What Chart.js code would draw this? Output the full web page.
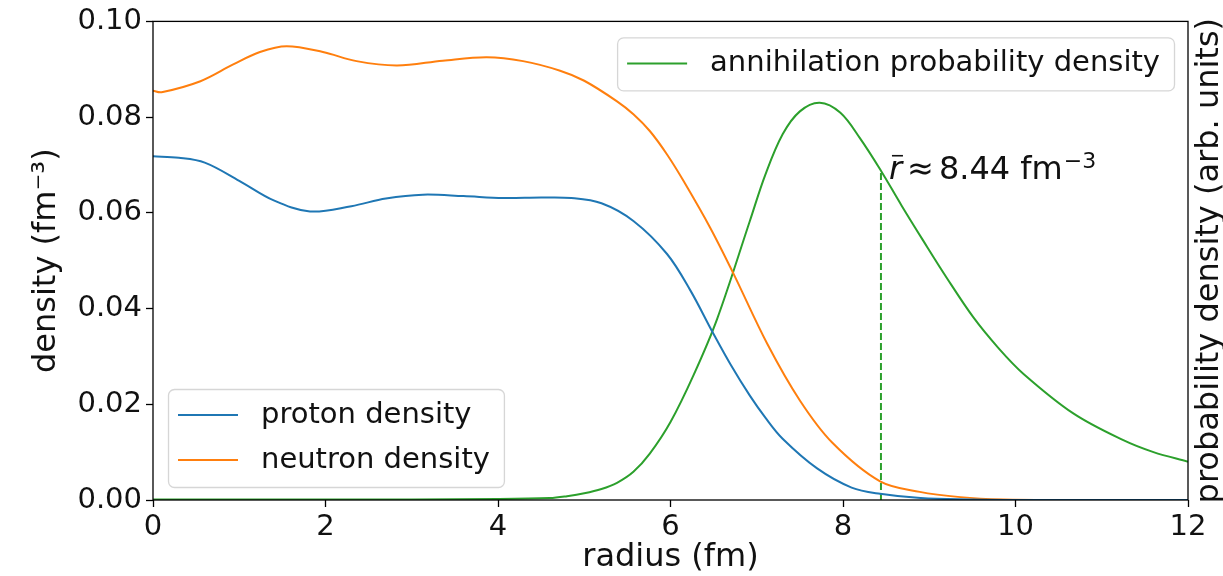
<!DOCTYPE html>
<html>
<head>
<meta charset="utf-8">
<title>Nuclear densities and annihilation probability</title>
<script src="https://cdn.jsdelivr.net/npm/chart.js@4.4.1/dist/chart.umd.min.js"></script>
<style>
  html, body { margin: 0; padding: 0; background: #fff; }
  canvas { display: block; }
</style>
</head>
<body>
<canvas id="densityChart" width="1223" height="576"></canvas>
<script>
// radius grid (fm) and density (fm^-3) for each curve
const protonR = [0, 0.3, 0.6, 1.0, 1.4, 1.82, 2.3, 2.7, 3.13, 3.6, 4.06, 4.5, 4.85, 5.2, 5.57, 5.96, 6.23, 6.49, 6.7, 6.92, 7.1, 7.3, 7.7, 8.1, 8.43, 8.9, 9.5, 10, 11, 12];
const protonDensity = [0.0718, 0.0715, 0.0705, 0.0667, 0.0626, 0.0603, 0.0614, 0.0630, 0.0638, 0.0635, 0.0631, 0.0632, 0.0631, 0.0620, 0.0583, 0.0514, 0.0438, 0.0350, 0.0282, 0.0218, 0.0172, 0.0128, 0.0066, 0.0026, 0.0013, 0.0004, 0.0001, 0, 0, 0];

const neutronR = [0, 0.1, 0.55, 0.93, 1.24, 1.55, 1.97, 2.36, 2.83, 3.36, 3.87, 4.29, 4.72, 5.0, 5.38, 5.57, 5.76, 5.96, 6.15, 6.46, 6.73, 7.12, 7.5, 7.88, 8.43, 8.89, 9.36, 9.86, 10.5, 12];
const neutronDensity = [0.0855, 0.0852, 0.0875, 0.0910, 0.0936, 0.0948, 0.0936, 0.0917, 0.0908, 0.0918, 0.0925, 0.0917, 0.0897, 0.0876, 0.0833, 0.0806, 0.0771, 0.0722, 0.0667, 0.0569, 0.0473, 0.0327, 0.0208, 0.0119, 0.0039, 0.0017, 0.0006, 0.0001, 0, 0];

// annihilation probability density, arbitrary units (right axis)
const annihR = [0, 2, 4, 4.6, 4.8, 5.0, 5.2, 5.38, 5.57, 5.76, 6.0, 6.27, 6.54, 6.92, 7.1, 7.3, 7.5, 7.73, 7.97, 8.2, 8.44, 8.68, 8.93, 9.2, 9.51, 9.8, 10.09, 10.67, 11.25, 11.6, 12];
const annihDensity = [0.001, 0.001, 0.002, 0.004, 0.008, 0.014, 0.023, 0.036, 0.059, 0.097, 0.163, 0.262, 0.378, 0.583, 0.68, 0.764, 0.812, 0.830, 0.809, 0.755, 0.688, 0.615, 0.542, 0.465, 0.382, 0.318, 0.264, 0.181, 0.125, 0.100, 0.080];

// mean annihilation radius marker
const rBar = 8.44;
const rBarDensity = 0.688;

const xTicks = [0, 2, 4, 6, 8, 10, 12];
const yTicks = [0, 0.02, 0.04, 0.06, 0.08, 0.10];

const FONT = 'DejaVu Sans';
const tickFont = { family: FONT, size: 29 };
const labelFont = { family: FONT, size: 32, lineHeight: 1.0 };

function points(xs, ys) {
  return xs.map((x, i) => ({ x: x, y: ys[i] }));
}

function lineSet(label, xs, ys, color, axis) {
  return {
    label: label,
    data: points(xs, ys),
    borderColor: color,
    backgroundColor: color,
    borderWidth: 2,
    pointRadius: 0,
    showLine: true,
    fill: false,
    tension: 0.35,
    yAxisID: axis
  };
}

function drawLegend(ctx, left, top, items) {
  const fs = 29;
  ctx.save();
  ctx.font = fs + 'px "' + FONT + '"';
  let textW = 0;
  items.forEach(it => { textW = Math.max(textW, ctx.measureText(it.label).width); });
  const w = 93 + textW + 14;
  const h = 26 * 2 + 45 * (items.length - 1) + 1;
  ctx.beginPath();
  ctx.roundRect(left + 0.5, top + 0.5, w, h, 6);
  ctx.fillStyle = 'rgba(255,255,255,0.8)';
  ctx.fill();
  ctx.strokeStyle = 'rgba(204,204,204,0.8)';
  ctx.lineWidth = 1.3;
  ctx.stroke();
  items.forEach((it, i) => {
    const cy = top + 26 + i * 45;
    ctx.beginPath();
    ctx.moveTo(left + 10, cy);
    ctx.lineTo(left + 70, cy);
    ctx.strokeStyle = it.color;
    ctx.lineWidth = 2;
    ctx.stroke();
    ctx.fillStyle = '#111';
    ctx.textBaseline = 'middle';
    ctx.textAlign = 'left';
    ctx.fillText(it.label, left + 93, cy);
  });
  ctx.restore();
  return { w: w, h: h };
}

const decorations = {
  id: 'decorations',
  afterDatasetsDraw(chart) {
    const ctx = chart.ctx;
    const a = chart.chartArea;
    const xs = chart.scales.x;
    const y2 = chart.scales.y2;
    const ds = chart.data.datasets;

    // axes frame
    ctx.save();
    ctx.strokeStyle = '#000';
    ctx.lineWidth = 1.3;
    ctx.strokeRect(a.left, a.top, a.right - a.left, a.bottom - a.top);
    ctx.restore();

    // legends: proton/neutron lower left, annihilation upper right
    const lower = [ds[0], ds[1]].map(d => ({ label: d.label, color: d.borderColor }));
    const upper = [ds[2]].map(d => ({ label: d.label, color: d.borderColor }));
    drawLegend(ctx, a.left + 15, a.bottom - 13 - (26 * 2 + 45 + 1), lower);
    ctx.save();
    ctx.font = '29px "' + FONT + '"';
    const upW = 93 + ctx.measureText(upper[0].label).width + 14;
    ctx.restore();
    drawLegend(ctx, a.right - 14 - upW, a.top + 16, upper);

    // mean radius annotation
    const px = xs.getPixelForValue(rBar);
    const base = y2.getPixelForValue(rBarDensity) + 8;
    ctx.save();
    ctx.fillStyle = '#111';
    ctx.textBaseline = 'alphabetic';
    ctx.textAlign = 'left';
    let x = px + 8;
    ctx.font = 'oblique 32px "' + FONT + '"';
    ctx.fillText('r', x, base);
    const rw = ctx.measureText('r').width;
    ctx.beginPath();
    ctx.moveTo(x + 3, base - 23);
    ctx.lineTo(x + 14, base - 23);
    ctx.strokeStyle = '#111';
    ctx.lineWidth = 1.6;
    ctx.stroke();
    x += rw + 5;
    ctx.font = '32px "' + FONT + '"';
    ctx.fillText('\u2248', x, base);
    x += ctx.measureText('\u2248').width + 5;
    ctx.fillText('8.44 fm', x, base);
    x += ctx.measureText('8.44 fm').width + 1;
    ctx.font = '22px "' + FONT + '"';
    ctx.fillText('\u22123', x, base - 11);
    ctx.restore();

    // right axis title
    ctx.save();
    ctx.translate(1210, (a.top + a.bottom) / 2);
    ctx.rotate(-Math.PI / 2);
    ctx.font = '32px "' + FONT + '"';
    ctx.fillStyle = '#111';
    ctx.textAlign = 'center';
    ctx.textBaseline = 'middle';
    ctx.fillText('probability density (arb. units)', 0, 0);
    ctx.restore();
  }
};

const ctx = document.getElementById('densityChart').getContext('2d');
const chart = new Chart(ctx, {
  type: 'scatter',
  data: {
    datasets: [
      lineSet('proton density', protonR, protonDensity, '#1f77b4', 'y'),
      lineSet('neutron density', neutronR, neutronDensity, '#ff7f0e', 'y'),
      lineSet('annihilation probability density', annihR, annihDensity, '#2ca02c', 'y2'),
      {
        label: 'mean radius',
        data: [{ x: rBar, y: 0 }, { x: rBar, y: rBarDensity }],
        borderColor: '#2ca02c',
        borderWidth: 2,
        borderDash: [7, 3],
        pointRadius: 0,
        showLine: true,
        fill: false,
        yAxisID: 'y2'
      }
    ]
  },
  options: {
    responsive: false,
    animation: false,
    devicePixelRatio: 1,
    layout: { padding: { top: 20, right: 35, left: 0, bottom: 0 } },
    plugins: {
      legend: { display: false },
      tooltip: { enabled: false }
    },
    scales: {
      x: {
        type: 'linear',
        min: 0,
        max: 12,
        afterBuildTicks: s => { s.ticks = xTicks.map(v => ({ value: v })); },
        afterFit: s => { s.height = 76; },
        ticks: { font: tickFont, color: '#111', padding: 3, maxRotation: 0 },
        grid: { drawOnChartArea: false, drawTicks: true, tickLength: 7, tickColor: '#000', tickWidth: 1.3 },
        border: { display: false },
        title: { display: true, text: 'radius (fm)', font: labelFont, color: '#111', padding: { top: 0, bottom: 2 } }
      },
      y: {
        type: 'linear',
        min: 0,
        max: 0.1,
        afterBuildTicks: s => { s.ticks = yTicks.map(v => ({ value: v })); },
        afterFit: s => { s.width = 153; },
        ticks: { font: tickFont, color: '#111', padding: 4, callback: v => v.toFixed(2) },
        grid: { drawOnChartArea: false, drawTicks: true, tickLength: 7, tickColor: '#000', tickWidth: 1.3 },
        border: { display: false },
        title: { display: true, text: 'density (fm\u207B\u00B3)', font: labelFont, color: '#111', padding: { top: 31, bottom: 0 } }
      },
      y2: {
        type: 'linear',
        position: 'right',
        display: false,
        min: 0,
        max: 1
      }
    }
  },
  plugins: [decorations]
});
</script>
</body>
</html>
